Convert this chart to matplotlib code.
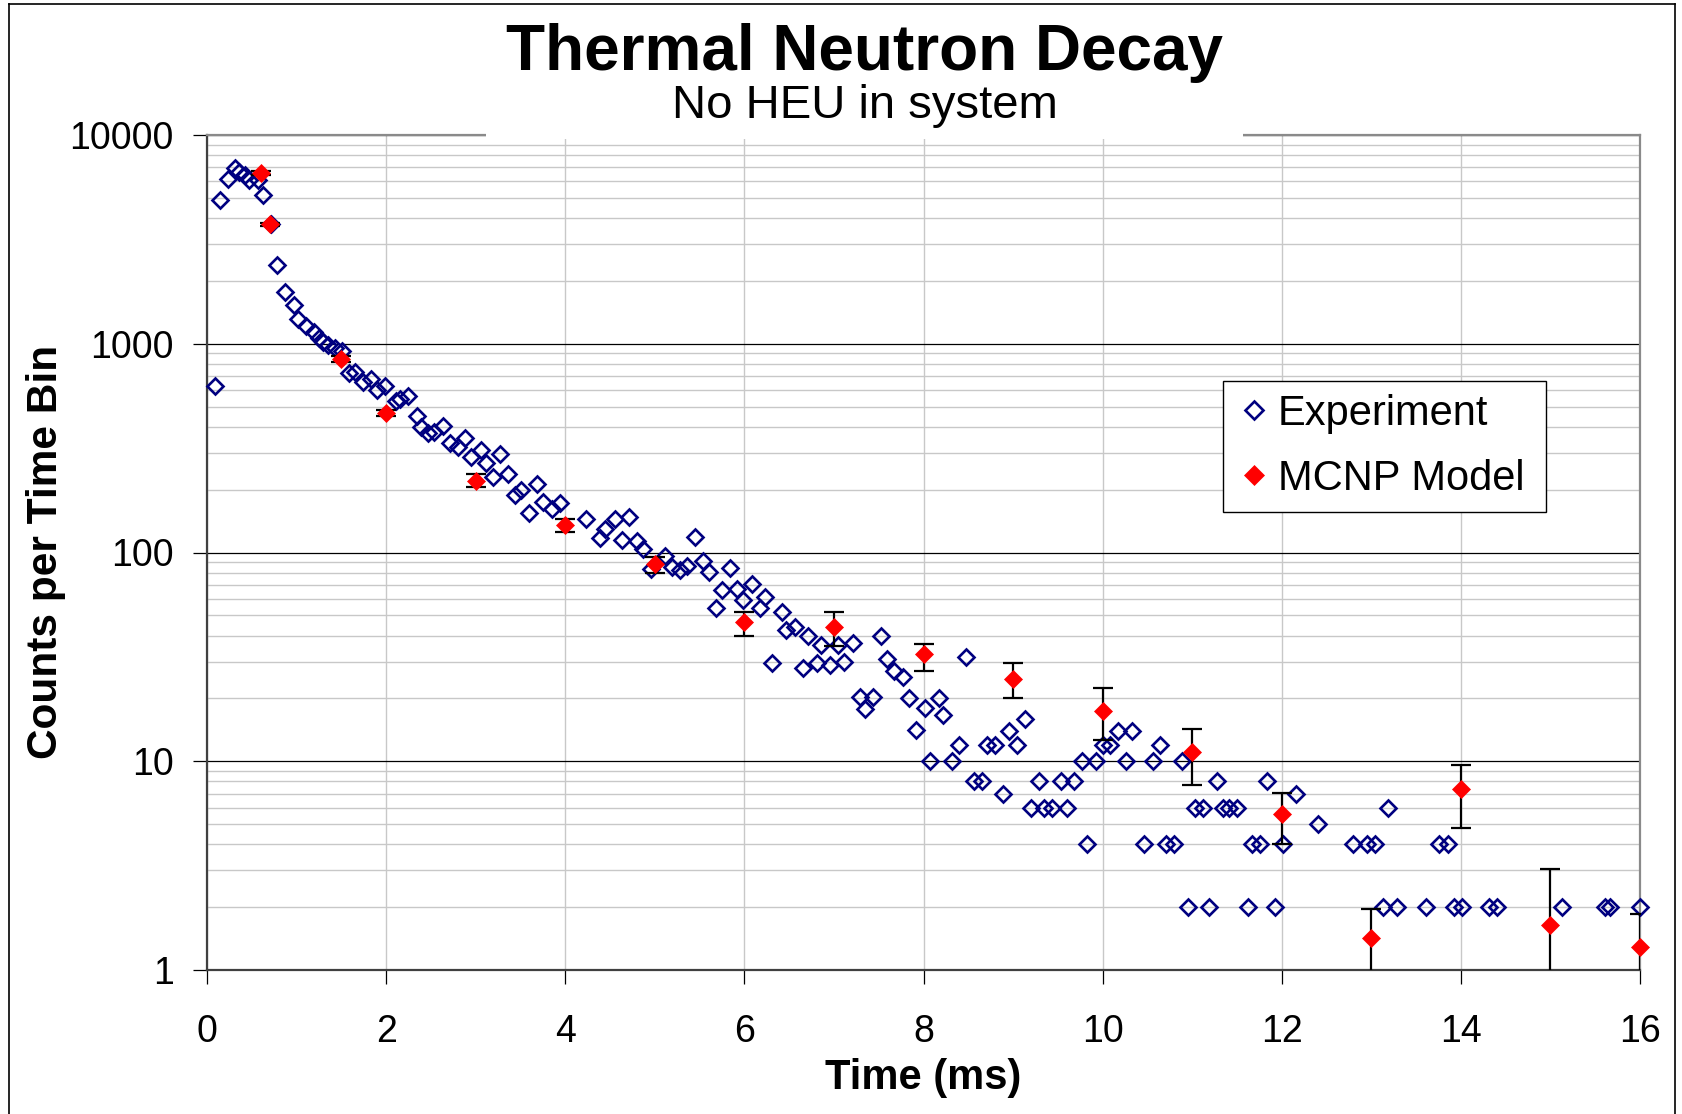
import numpy as np
import matplotlib
matplotlib.use("Agg")
import matplotlib.pyplot as plt
from matplotlib.lines import Line2D
from matplotlib.patches import Rectangle
from matplotlib.ticker import FixedLocator, FuncFormatter, NullFormatter

plt.rcParams["font.family"] = ["Liberation Sans", "DejaVu Sans"]

# ----------------------------------------------------------------------
# Data
# ----------------------------------------------------------------------
exp_t = [
    0.09, 0.14, 0.23, 0.31, 0.36, 0.42, 0.47, 0.57, 0.63, 0.72, 0.78, 0.87,
    0.97, 1.02, 1.10, 1.19, 1.25, 1.30, 1.35, 1.43, 1.51, 1.59, 1.65, 1.74,
    1.83, 1.90, 1.99, 2.11, 2.15, 2.24, 2.34, 2.39, 2.47, 2.54, 2.63, 2.71,
    2.80, 2.88, 2.95, 3.06, 3.12, 3.19, 3.27, 3.36, 3.44, 3.51, 3.60, 3.69,
    3.75, 3.85, 3.94, 4.23, 4.39, 4.44, 4.55, 4.63, 4.71, 4.80, 4.87, 4.96,
    5.11, 5.19, 5.28, 5.36, 5.45, 5.54, 5.60, 5.68, 5.75, 5.84, 5.92, 5.99,
    6.08, 6.17, 6.23, 6.31, 6.42, 6.47, 6.56, 6.65, 6.71, 6.81, 6.86, 6.96,
    7.04, 7.11, 7.21, 7.29, 7.35, 7.44, 7.53, 7.59, 7.67, 7.77, 7.84, 7.92,
    8.02, 8.07, 8.17, 8.22, 8.32, 8.40, 8.47, 8.56, 8.65, 8.71, 8.80, 8.89,
    8.96, 9.04, 9.13, 9.20, 9.29, 9.35, 9.44, 9.53, 9.60, 9.68, 9.77, 9.83,
    9.93, 10.00, 10.08, 10.17, 10.26, 10.33, 10.46, 10.56, 10.64, 10.71, 10.80, 10.89,
    10.95, 11.03, 11.12, 11.19, 11.28, 11.34, 11.41, 11.50, 11.62, 11.67, 11.76, 11.83,
    11.92, 12.01, 12.16, 12.40, 12.79, 12.95, 13.04, 13.13, 13.19, 13.29, 13.61, 13.76,
    13.86, 13.92, 14.01, 14.31, 14.40, 15.13, 15.61, 15.67, 16.00,
]
exp_counts = [
    627, 4890, 6150, 6920, 6670, 6430, 6080, 6080, 5150, 3730, 2385, 1775,
    1530, 1308, 1220, 1142, 1070, 1023, 986, 955, 925, 722, 735, 658,
    680, 600, 628, 532, 545, 560, 451, 400, 372, 379, 403, 336,
    321, 352, 288, 310, 269, 231, 296, 239, 188, 199, 154, 214,
    175, 162, 173, 144, 117, 130, 144, 115, 148, 113, 104, 83,
    96, 85, 82, 86, 118, 91, 81, 54, 66, 84, 67, 59,
    71, 54, 61, 29.7, 52, 42.5, 44, 27.9, 40, 29.5, 36, 28.8,
    36, 30, 37, 20.4, 17.7, 20.4, 40, 30.8, 27, 25.4, 20.2, 14.1,
    17.9, 10, 20.2, 16.7, 10, 12, 31.6, 8, 8, 12, 12, 7,
    14, 12, 16, 6, 8, 6, 6, 8, 6, 8, 10, 4,
    10, 12, 12, 14, 10, 14, 4, 10, 12, 4, 4, 10,
    2, 6, 6, 2, 8, 6, 6, 6, 2, 4, 4, 8,
    2, 4, 7, 5, 4, 4, 4, 2, 6, 2, 2, 4,
    4, 2, 2, 2, 2, 2, 2, 2, 2,
]

mcnp_t = [0.6, 0.7, 1.5, 2, 3, 4, 5, 6, 7, 8, 9, 10, 11, 12, 13, 14, 15, 16]
mcnp_counts = [6550, 3730, 841, 464, 220, 135, 88, 46.5, 44, 32.6, 24.7, 17.4,
               11.1, 5.58, 1.42, 7.33, 1.64, 1.29]
mcnp_hi = [6700, 3800, 870, 480, 239, 145, 95, 51.8, 51.8, 36.3, 29.7, 22.5,
           14.2, 7.08, 1.95, 9.57, 3.06, 1.85]
mcnp_lo = [6400, 3660, 815, 450, 206, 125, 80, 40, 35.6, 27, 20.0, 12.6,
           7.7, 4.0, 0.5, 4.8, 0.5, 0.5]

# ----------------------------------------------------------------------
W, H = 1683, 1114
fig = plt.figure(figsize=(W / 100, H / 100), dpi=100)
ax = fig.add_axes([207 / W, 1 - 970 / H, (1640 - 207) / W, (970 - 135) / H])

ax.set_yscale("log")
ax.set_xlim(0, 16)
ax.set_ylim(1, 10000)

# grid
ax.xaxis.set_major_locator(FixedLocator(np.arange(0, 17, 2)))
ax.yaxis.set_major_locator(FixedLocator([1, 10, 100, 1000, 10000]))
minors = [m * 10 ** d for d in range(4) for m in range(2, 10)]
ax.yaxis.set_minor_locator(FixedLocator(minors))
ax.yaxis.set_minor_formatter(NullFormatter())
ax.yaxis.set_major_formatter(FuncFormatter(lambda v, p: f"{int(round(v))}"))
ax.grid(axis="x", which="major", color="#c8c8c8", lw=1.0, zorder=0)
ax.grid(axis="y", which="minor", color="#c8c8c8", lw=1.0, zorder=0)
ax.grid(axis="y", which="major", color="black", lw=0.9, zorder=0)
ax.set_axisbelow(True)

ax.tick_params(axis="both", which="major", direction="out", length=10,
               width=0.9, color="black", labelsize=27)
ax.tick_params(axis="x", pad=22)
ax.tick_params(axis="y", pad=14)
ax.tick_params(axis="y", which="minor", length=0)

for side in ["top", "right"]:
    ax.spines[side].set_color("#8a8a8a")
    ax.spines[side].set_linewidth(1.6)
for side in ["left", "bottom"]:
    ax.spines[side].set_color("#404040")
    ax.spines[side].set_linewidth(1.6)

# series
ax.plot(exp_t, exp_counts, ls="none", marker="D", ms=8.2, mfc="none",
        mec="#000080", mew=1.9, label="Experiment", zorder=3, clip_on=False)

mc = np.array(mcnp_counts)
yerr = [mc - np.array(mcnp_lo), np.array(mcnp_hi) - mc]
ax.errorbar(mcnp_t, mc, yerr=yerr, fmt="none", ecolor="black", elinewidth=1.6,
            capsize=7, capthick=1.6, zorder=4)
ax.plot(mcnp_t, mc, ls="none", marker="D", ms=9.5, mfc="#ff0000",
        mec="#ff0000", mew=0.5, label="MCNP Model", zorder=5, clip_on=False)

leg = ax.legend(loc="upper left", bbox_to_anchor=(0.7088, 0.5497, 0.2254, 0.156),
                mode="expand", fontsize=30, frameon=True, fancybox=False,
                edgecolor="black", framealpha=1, borderpad=0.32,
                handlelength=0.85, handletextpad=0.15, labelspacing=0.6,
                borderaxespad=0, markerscale=1.1)
leg.get_frame().set_linewidth(1.0)

# titles and axis labels
fig.text(865 / W, 1 - 70 / H, "Thermal Neutron Decay", ha="center",
         va="baseline", fontsize=46, fontweight="bold")
fig.text(865 / W, 1 - 118 / H, "No HEU in system", ha="center",
         va="baseline", fontsize=34)
fig.text(923 / W, 1 - 1089 / H, "Time (ms)", ha="center", va="baseline",
         fontsize=30, fontweight="bold")
fig.text(46 / W, 1 - 552 / H, "Counts per Time Bin", ha="center", va="center",
         rotation=90, fontsize=30.5, fontweight="bold")

# white title box hiding the top spine behind the title
fig.add_artist(Rectangle((486 / W, 1 - 139 / H), (1243 - 486) / W, 8 / H,
                         transform=fig.transFigure, facecolor="white",
                         edgecolor="none", zorder=3))

# outer chart border
for xs, ys in [((9, 9), (4, H)), ((9, 1675), (4, 4)), ((1675, 1675), (4, H))]:
    fig.add_artist(Line2D([x / W for x in xs], [1 - y / H for y in ys],
                          transform=fig.transFigure, color="black", lw=1.2))

fig.savefig("out.png", dpi=100)
